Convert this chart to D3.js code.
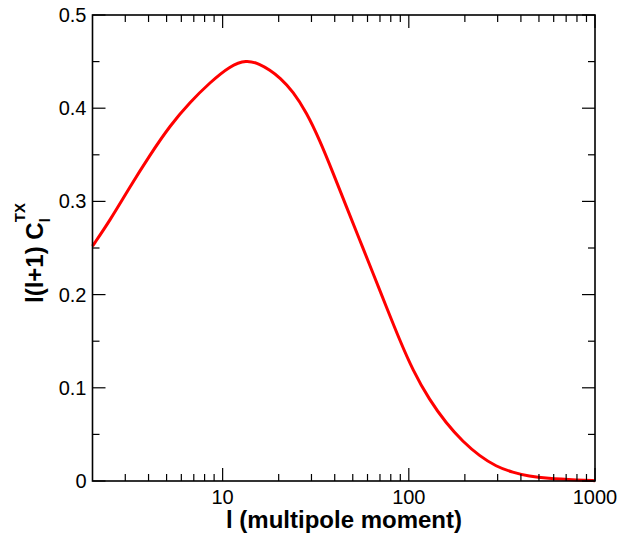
<!DOCTYPE html>
<html>
<head>
<meta charset="utf-8">
<script src="https://cdn.jsdelivr.net/npm/d3@7"></script>
<style>
  body { margin: 0; background: #fff; }
  svg { display: block; font-family: "Liberation Sans", Arial, sans-serif; }
</style>
</head>
<body>
<div id="chart"></div>
<script>
// multipole moment l and l(l+1) C_l^TX
const ell = [2, 2.49, 3.18, 4.07, 5.22, 6.68, 8.55, 10.94, 13.4, 15.85, 17.9, 20.3, 23.9, 28.2, 33.2, 39.2,
             46.2, 54.5, 64.2, 75.7, 89.3, 105, 129, 159, 195, 240, 294, 362, 444, 546, 823, 1000];
const clTX = [0.252, 0.280, 0.3158, 0.3498, 0.3815, 0.4065, 0.4276, 0.4453, 0.452, 0.4474, 0.441, 0.433, 0.418, 0.3955, 0.3659, 0.3305,
              0.2943, 0.2586, 0.2229, 0.187, 0.1513, 0.119, 0.0869, 0.0619, 0.0422, 0.0268, 0.0156, 0.0091, 0.005, 0.0028, 0.0009, 0.0004];

const xMajor = [10, 100, 1000];
const xMinor = [3, 4, 5, 6, 7, 8, 9, 20, 30, 40, 50, 60, 70, 80, 90, 200, 300, 400, 500, 600, 700, 800, 900];
const yMajor = [0, 0.1, 0.2, 0.3, 0.4, 0.5];
const yMinor = [0.05, 0.15, 0.25, 0.35, 0.45];

const width = 643, height = 534;
const margin = {top: 15, right: 48, bottom: 53, left: 92.5};

const svg = d3.select("#chart")
  .append("svg")
  .attr("width", width)
  .attr("height", height);

const x = d3.scaleLog()
  .domain([2, 1000])
  .range([margin.left, width - margin.right]);
const y = d3.scaleLinear()
  .domain([0, 0.5])
  .range([height - margin.bottom, margin.top]);

const x0 = x.range()[0], x1 = x.range()[1];
const y0 = y.range()[0], y1 = y.range()[1];

// curve (basis spline smooths the hand-read points)
const line = d3.line()
  .x((d, i) => x(ell[i]))
  .y(d => y(d))
  .curve(d3.curveBasis);

svg.append("path")
  .datum(clTX)
  .attr("d", line)
  .attr("fill", "none")
  .attr("stroke", "#ff0000")
  .attr("stroke-width", 3);

// ticks, inward on all four sides
const tickMajor = 13, tickMinor = 7;
const ticks = svg.append("g").attr("stroke", "#000").attr("stroke-width", 1.2);

function xTicks(vals, len) {
  vals.forEach(v => {
    ticks.append("line").attr("x1", x(v)).attr("x2", x(v)).attr("y1", y0).attr("y2", y0 - len);
    ticks.append("line").attr("x1", x(v)).attr("x2", x(v)).attr("y1", y1).attr("y2", y1 + len);
  });
}
function yTicks(vals, len) {
  vals.forEach(v => {
    ticks.append("line").attr("x1", x0).attr("x2", x0 + len).attr("y1", y(v)).attr("y2", y(v));
    ticks.append("line").attr("x1", x1).attr("x2", x1 - len).attr("y1", y(v)).attr("y2", y(v));
  });
}
xTicks(xMajor, tickMajor);
xTicks(xMinor, tickMinor);
yTicks(yMajor, tickMajor);
yTicks(yMinor, tickMinor);

// frame
svg.append("rect")
  .attr("x", x0).attr("y", y1)
  .attr("width", x1 - x0).attr("height", y0 - y1)
  .attr("fill", "none")
  .attr("stroke", "#000")
  .attr("stroke-width", 1.6);

// tick labels
svg.selectAll(".ylab")
  .data(yMajor)
  .enter()
  .append("text")
  .attr("x", x0 - 6)
  .attr("y", d => y(d) + 7)
  .attr("text-anchor", "end")
  .attr("font-size", "20px")
  .text(d => d === 0 ? "0" : d3.format(".1f")(d));

svg.selectAll(".xlab")
  .data(xMajor)
  .enter()
  .append("text")
  .attr("x", d => x(d))
  .attr("y", y0 + 23)
  .attr("text-anchor", "middle")
  .attr("font-size", "20px")
  .text(d => d);

// axis titles
svg.append("text")
  .attr("x", 344)
  .attr("y", 528)
  .attr("text-anchor", "middle")
  .attr("font-size", "24px")
  .attr("font-weight", "bold")
  .text("l (multipole moment)");

const ylab = svg.append("text")
  .attr("transform", "rotate(-90)")
  .attr("x", -303)
  .attr("y", 43)
  .attr("font-size", "24px")
  .attr("font-weight", "bold");
ylab.append("tspan").text("l(l+1) C");
ylab.append("tspan").attr("font-size", "15px").attr("dy", 7).text("l");
ylab.append("tspan").attr("font-size", "15px").attr("dx", -4).attr("dy", -25).text("TX");
</script>
</body>
</html>
